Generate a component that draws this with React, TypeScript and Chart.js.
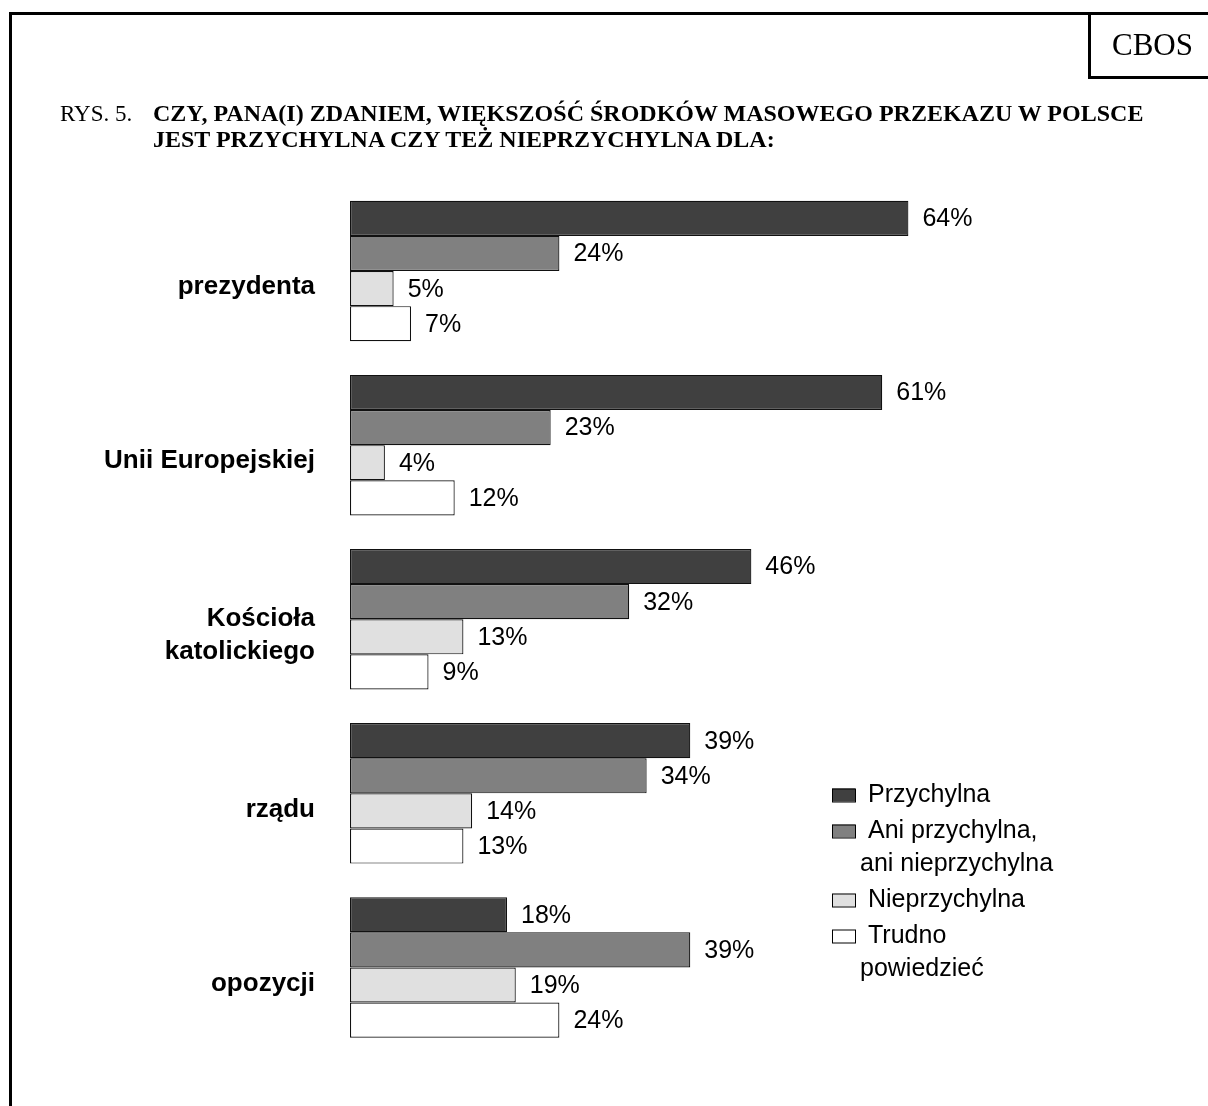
import React, { useEffect, useRef } from "react";
import { Chart, registerables } from "chart.js";

Chart.register(...registerables);

const categories: string[][] = [
  ["prezydenta"],
  ["Unii Europejskiej"],
  ["Kościoła", "katolickiego"],
  ["rządu"],
  ["opozycji"],
];

const seriesNames = [
  "Przychylna",
  "Ani przychylna, ani nieprzychylna",
  "Nieprzychylna",
  "Trudno powiedzieć",
];

const legendLines: string[][] = [
  ["Przychylna"],
  ["Ani przychylna,", "ani nieprzychylna"],
  ["Nieprzychylna"],
  ["Trudno", "powiedzieć"],
];

const przychylna = [64, 61, 46, 39, 18];
const aniAni = [24, 23, 32, 34, 39];
const nieprzychylna = [5, 4, 13, 14, 19];
const trudno = [7, 12, 9, 13, 24];

const seriesValues = [przychylna, aniAni, nieprzychylna, trudno];
const seriesColors = ["#404040", "#808080", "#e0e0e0", "#ffffff"];

const SANS = '"Liberation Sans", Arial, Helvetica, sans-serif';
const SERIF = '"Liberation Serif", "Times New Roman", Times, serif';

export default function App() {
  const ref = useRef<HTMLCanvasElement>(null);

  useEffect(() => {
    if (!ref.current) return;

    const valueLabels = {
      id: "valueLabels",
      afterDatasetsDraw(chart: any) {
        const ctx = chart.ctx;
        ctx.save();
        ctx.font = `25px ${SANS}`;
        ctx.fillStyle = "#000";
        ctx.textBaseline = "middle";
        ctx.textAlign = "left";
        chart.data.datasets.forEach((ds: any, i: number) => {
          const meta = chart.getDatasetMeta(i);
          meta.data.forEach((el: any, j: number) => {
            ctx.fillText(`${ds.data[j]}%`, el.x + 14, el.y + 1);
          });
        });
        ctx.restore();
      },
    };

    const customLegend = {
      id: "customLegend",
      afterDraw(chart: any) {
        const ctx = chart.ctx;
        ctx.save();
        ctx.font = `25px ${SANS}`;
        ctx.textBaseline = "middle";
        ctx.textAlign = "left";
        const boxX = 832;
        const boxW = 23;
        const boxH = 13;
        const lineGap = 33;
        const itemGap = 36;
        let y = 795;
        chart.data.datasets.forEach((ds: any, i: number) => {
          ctx.fillStyle = ds.backgroundColor;
          ctx.fillRect(boxX, y - boxH / 2, boxW, boxH);
          ctx.strokeStyle = "#000";
          ctx.lineWidth = 1;
          ctx.strokeRect(boxX + 0.5, y - boxH / 2 + 0.5, boxW, boxH);
          ctx.fillStyle = "#000";
          const lines = legendLines[i];
          lines.forEach((ln, k) => {
            ctx.fillText(ln, k === 0 ? 868 : 860, y + k * lineGap);
          });
          y += (lines.length - 1) * lineGap + itemGap;
        });
        ctx.restore();
      },
    };

    const chart = new Chart(ref.current, {
      type: "bar",
      data: {
        labels: categories,
        datasets: seriesValues.map((vals, i) => ({
          label: seriesNames[i],
          data: vals,
          backgroundColor: seriesColors[i],
          borderColor: "#111",
          borderWidth: 1.2,
          borderSkipped: false,
          categoryPercentage: 0.807,
          barPercentage: 1,
        })),
      },
      options: {
        indexAxis: "y",
        animation: false,
        responsive: false,
        devicePixelRatio: 1,
        layout: { padding: { left: 0, right: 160, top: 184, bottom: 42 } },
        plugins: {
          legend: { display: false },
          title: { display: false },
          tooltip: { enabled: false },
        },
        scales: {
          x: {
            display: false,
            min: 0,
            max: 80,
          },
          y: {
            grid: { display: false, drawTicks: false },
            border: { display: false },
            ticks: {
              color: "#000",
              padding: 35,
              labelOffset: 16,
              font: { family: SANS, size: 26, weight: "bold", lineHeight: 1.27 },
            },
            afterFit: (scale: any) => {
              scale.width = 350;
            },
          },
        },
      },
      plugins: [valueLabels, customLegend],
    } as any);

    return () => chart.destroy();
  }, []);

  return (
    <div
      style={{
        position: "absolute",
        left: 0,
        top: 0,
        width: 1208,
        height: 1106,
        overflow: "hidden",
        background: "#fff",
      }}
    >
      <canvas
        ref={ref}
        width={1208}
        height={1106}
        style={{ position: "absolute", left: 0, top: 0, width: 1208, height: 1106 }}
      />
      <div
        style={{
          position: "absolute",
          left: 9,
          top: 12,
          width: 1400,
          height: 1300,
          border: "3px solid #000",
          pointerEvents: "none",
        }}
      />
      <div
        style={{
          position: "absolute",
          left: 1088,
          top: 12,
          width: 300,
          height: 67,
          boxSizing: "border-box",
          border: "3px solid #000",
        }}
      />
      <div
        style={{
          position: "absolute",
          left: 1112,
          top: 29,
          fontFamily: SERIF,
          fontSize: 31,
          lineHeight: "31px",
          color: "#000",
          whiteSpace: "nowrap",
        }}
      >
        CBOS
      </div>
      <div
        style={{
          position: "absolute",
          left: 60,
          top: 101,
          fontFamily: SERIF,
          fontSize: 23,
          lineHeight: "26px",
          color: "#000",
          whiteSpace: "nowrap",
        }}
      >
        RYS. 5.
      </div>
      <div
        style={{
          position: "absolute",
          left: 153,
          top: 100,
          fontFamily: SERIF,
          fontSize: 24,
          fontWeight: "bold",
          lineHeight: "26px",
          color: "#000",
          whiteSpace: "nowrap",
        }}
      >
        <div>CZY, PANA(I) ZDANIEM, WIĘKSZOŚĆ ŚRODKÓW MASOWEGO PRZEKAZU W POLSCE</div>
        <div>JEST PRZYCHYLNA CZY TEŻ NIEPRZYCHYLNA DLA:</div>
      </div>
    </div>
  );
}
